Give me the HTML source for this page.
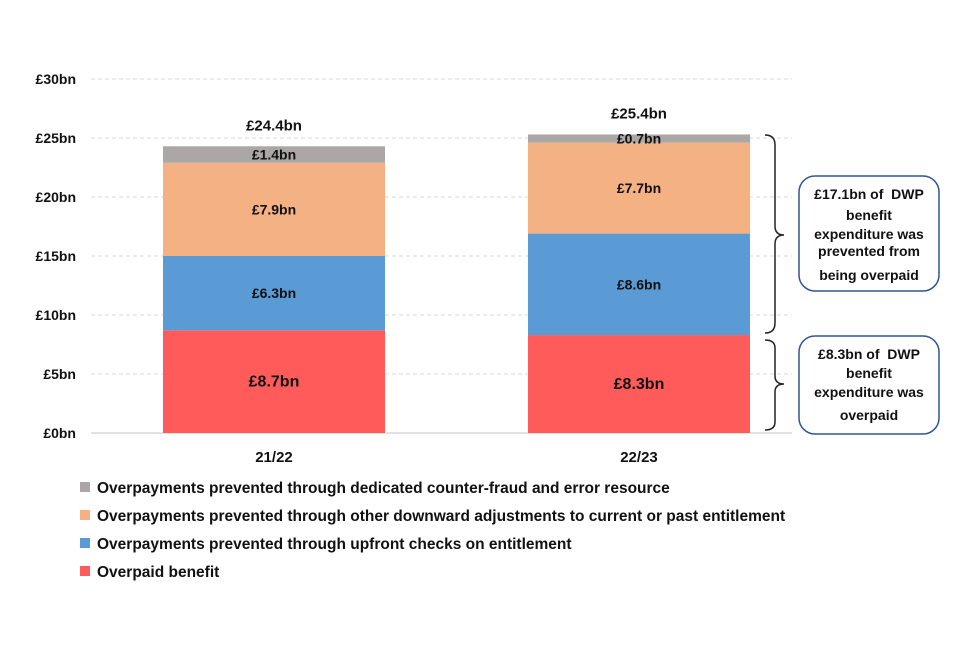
<!DOCTYPE html>
<html><head><meta charset="utf-8"><style>
body{margin:0;background:#fff;}
svg text{font-family:"Liberation Sans",sans-serif;font-weight:bold;fill:#111;white-space:pre;}
</style></head><body>
<svg width="960" height="640">
<g id="grid"></g><g id="bars"></g><g id="labels"></g>
<g fill="none" stroke="#222" stroke-width="1.5">
<path d="M765,135 Q775,135 775,145 L775,226 Q775,235 784,235 Q775,235 775,244 L775,323 Q775,333 765,333"/>
<path d="M765,340 Q775,340 775,348 L775,376 Q775,384 784,384 Q775,384 775,392 L775,422 Q775,430 765,430"/>
</g>
<g>
<rect x="799" y="176" width="140" height="115" rx="16" fill="#fff" stroke="#2f5597" stroke-width="1.5"/>
<text x="869" y="199" font-size="14" text-anchor="middle">£17.1bn of&#160;&#160;DWP</text>
<text x="869" y="220" font-size="14" text-anchor="middle">benefit</text>
<text x="869" y="239" font-size="14" text-anchor="middle">expenditure was</text>
<text x="869" y="256" font-size="14" text-anchor="middle">prevented from</text>
<text x="869" y="280" font-size="14" text-anchor="middle">being overpaid</text>
</g>
<g>
<rect x="799" y="336" width="140" height="98" rx="16" fill="#fff" stroke="#2f5597" stroke-width="1.5"/>
<text x="869" y="359" font-size="14" text-anchor="middle">£8.3bn of&#160;&#160;DWP</text>
<text x="869" y="378" font-size="14" text-anchor="middle">benefit</text>
<text x="869" y="397" font-size="14" text-anchor="middle">expenditure was</text>
<text x="869" y="420" font-size="14" text-anchor="middle">overpaid</text>
</g>
<g id="legend"></g>
</svg>
<script>
const categories=["21/22","22/23"];
const overpaid=[8.7,8.3];
const upfront=[6.3,8.6];
const downward=[7.9,7.7];
const counterFraud=[1.4,0.7];
const totals=["£24.4bn","£25.4bn"];
const yTicks=[0,5,10,15,20,25,30];
const seriesNames=["Overpaid benefit","Overpayments prevented through upfront checks on entitlement","Overpayments prevented through other downward adjustments to current or past entitlement","Overpayments prevented through dedicated counter-fraud and error resource"];
const colors=["#ff5b5b","#5b9bd5","#f4b183","#aca7a7"];
const NS="http://www.w3.org/2000/svg";
const y0=433,yTop=79,yMax=30;
function y(v){return y0-(v/yMax)*(y0-yTop);}
const barX=[163,528],barW=222;
function xBar(i){return barX[i];}
function mk(t,a,p){const e=document.createElementNS(NS,t);for(const k in a)e.setAttribute(k,a[k]);p.appendChild(e);return e;}
const grid=document.getElementById('grid');
yTicks.forEach(v=>{
 const l=mk('line',{x1:91,x2:792,y1:y(v),y2:y(v),stroke:'#d9d9d9','stroke-width':v===0?1.5:1,'stroke-dasharray':v===0?'':'4,3'},grid);
 
 
 const t=mk('text',{x:76,y:y(v)+5,'text-anchor':'end','font-size':14},grid);
 t.textContent='£'+v+'bn';
 
 
});
const bars=document.getElementById('bars'),labels=document.getElementById('labels');
const series=[overpaid,upfront,downward,counterFraud];
categories.forEach((c,i)=>{
 let base=0;
 series.forEach((s,k)=>{
  const v=s[i];
  const r=mk('rect',{x:xBar(i),y:y(base+v),width:barW,height:y(base)-y(base+v),fill:colors[k]},bars);
  
  
  const t=mk('text',{x:xBar(i)+barW/2,y:(y(base)+y(base+v))/2+5,'text-anchor':'middle','font-size':k===0?16:14},labels);
  t.textContent='£'+v.toFixed(1)+'bn';
  
  
  base+=v;
 });
 const tt=mk('text',{x:xBar(i)+barW/2,y:y(base)-16,'text-anchor':'middle','font-size':15},labels);
 tt.textContent=totals[i];
 
 
 const xl=mk('text',{x:xBar(i)+barW/2,y:462,'text-anchor':'middle','font-size':15},labels);
 xl.textContent=c;
 
 
});
const lg=document.getElementById('legend');
[3,2,1,0].forEach((k,j)=>{
 const yy=488+j*28;
 const r=mk('rect',{x:80,y:yy-6,width:10,height:10,fill:colors[k]},lg);
 
 
 const t=mk('text',{x:97,y:yy+5,'font-size':15.5},lg);
 t.textContent=seriesNames[k];
 
 
});
</script>
</body></html>
